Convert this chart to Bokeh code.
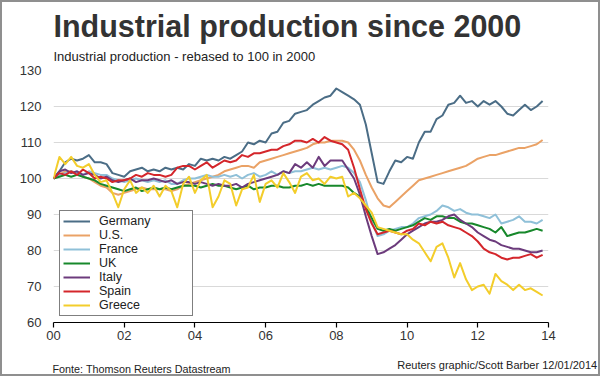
from bokeh.plotting import figure
from bokeh.models import (FixedTicker, Label, Legend, LegendItem, Title,
                          Range1d, CustomJSTickFormatter)
from bokeh.embed import file_html
from bokeh.resources import INLINE

# ---------------- data (bimonthly readings, rebased 2000 = 100) ----------------
start_year = 2000
periods_per_year = 6
n_periods = 84
years = [start_year + k / periods_per_year for k in range(n_periods)]

germany = [
    100, 102, 104.5, 105.5, 105, 105.5,
    106.5, 104.5, 104.5, 104, 101.5, 101,
    100.5, 102, 102.5, 103, 102, 102.5,
    102, 103, 102.5, 103, 102.5, 104,
    103.5, 105.5, 105, 105.5, 105, 106,
    105.5, 106.5, 107.5, 110, 109.5, 110.5,
    110, 112.5, 113, 115.5, 116, 118,
    118.5, 119, 120.5, 121.5, 122.5, 123,
    125, 124, 123, 122, 120.5, 115,
    107, 99, 98.5, 102, 105, 104.5,
    106, 105.5, 110, 113, 113, 116.5,
    117.5, 120.5, 121, 123, 121, 121.5,
    120, 121.5, 120.5, 121.5, 120, 118,
    117.5, 119, 120.5, 119, 120, 121.5,
]
us = [
    100, 101, 102, 102, 101.5, 100.5,
    100, 99, 98, 97.5, 96, 95.5,
    96, 96.5, 97, 97.5, 97, 97,
    97, 97, 96.5, 97, 98, 98.5,
    99, 99.5, 100, 100.5, 101, 102,
    102.5, 103, 103.5, 103.5, 103, 104.5,
    105, 105.5, 106, 106.5, 107, 107.5,
    108, 108.5, 109.5, 110, 110, 110.5,
    110.5, 110.5, 110, 108, 105, 101,
    97.5, 94.5, 92.5, 92, 93.5, 95,
    96.5, 98, 99.5, 100, 100.5, 101,
    101.5, 102, 102.5, 103, 103.5, 104.5,
    105.5, 106, 106.5, 106.5, 107, 107.5,
    108, 108.5, 108.5, 109, 109.5, 110.7,
]
france = [
    100, 101, 101.5, 102, 101.5, 101,
    102, 101.5, 101, 101, 100, 99.5,
    99, 99.5, 100, 99.5, 99, 99.5,
    99, 99.5, 98.5, 98.5, 99.5, 100,
    100, 100.5, 101, 100.5, 100.5, 101,
    100.5, 101, 100, 101, 101.5, 100.5,
    101, 102, 101, 102, 101.5, 102,
    102, 102.5, 103, 102.5, 103, 102.5,
    103, 103.5, 103, 101.5, 99, 94,
    88, 84, 84.5, 85.5, 86, 86.5,
    86.5, 87.5, 89, 89.5, 90, 91,
    92.5, 92, 91, 91.5, 90.5, 90,
    90, 89.5, 89, 90, 87.5, 88,
    88.5, 89.5, 88, 88, 87.5, 88.5,
]
uk = [
    100, 100.5, 101, 100.5, 101, 100.5,
    100, 99.5, 98.5, 98, 97.5, 97,
    96.5, 97, 97.5, 96.5, 97, 97.5,
    97, 97.5, 97, 97.5, 98, 98,
    98, 97.5, 98, 98.5, 98, 98,
    97.5, 97, 97.5, 98, 97, 97.5,
    97.5, 98, 98, 97.5, 97.5, 98,
    98, 98.5, 98, 98.5, 98, 98,
    98, 98, 97.5, 96, 95, 92,
    89, 86, 85.5, 86, 85.5, 86,
    86.5, 87, 88, 89, 88.5, 89.5,
    89.5, 89, 89, 88, 87.5, 87.5,
    87, 86.5, 86, 85, 86.5, 84,
    84.5, 85, 85, 85.5, 86, 85.5,
]
italy = [
    100, 102, 102.5, 101.5, 102, 101,
    101.5, 101, 100, 100.5, 99.5, 99,
    99.5, 100, 99, 99.5, 99.5, 100,
    99.5, 99, 99.5, 98.5, 99, 99,
    98.5, 99, 98.5, 98, 98.5, 98,
    98, 98.5, 97.5, 98.5, 99, 99.5,
    100, 100.5, 101, 102, 101.5, 104,
    103, 104.5, 103, 106, 103.5, 105,
    105, 105, 102.5, 100, 95.5, 89.5,
    84, 79, 79.5, 80.5, 81.5, 83,
    84.5, 85.5, 86.5, 87.5, 88, 88,
    88.5, 89.5, 90, 88.5, 87.5, 86.5,
    85, 84, 83, 82.5, 81.5, 81,
    80.5, 80.5, 80, 79.5, 79.5, 80,
]
spain = [
    100, 101.5, 101, 102, 101, 102.5,
    101.5, 100, 100.5, 100, 99, 99.5,
    99.5, 100, 101, 100.5, 101.5, 101,
    101, 100.5, 101, 103, 103.5, 103.5,
    102.5, 103.5, 104.5, 103, 104, 105,
    104.5, 105, 106.5, 106, 107, 107,
    107.5, 108, 108, 109, 109.5, 110.5,
    110.5, 110, 111, 110, 111.5, 110.5,
    110, 109.5, 108, 103, 97, 91.5,
    87.5, 84.5, 85, 85.5, 85, 84.5,
    85.5, 86, 87.5, 87, 88, 87.5,
    88, 87, 86.5, 86, 85, 84,
    82.5, 80.5, 79.5, 79, 78, 77.5,
    78, 78, 78.5, 79, 78, 78.8,
]
greece = [
    100, 106, 104, 106, 103.5, 103,
    104, 101, 99, 99.5, 96, 92,
    97, 99.5, 96, 97.5, 96, 98,
    95, 98, 96.5, 92, 98.5, 100.5,
    96, 99.5, 101, 92, 95, 99.5,
    98.5, 92.5, 97, 97.5, 101, 93.5,
    98.5, 99.5, 97.5, 101.5, 99, 96,
    100.5, 101.5, 99.5, 100, 98.5, 100.5,
    100, 100.5, 95, 96, 94.5, 92.5,
    90.5, 86.5, 86, 85.5, 85, 84.5,
    84.5, 83, 82, 79.5, 77, 81,
    82, 78, 72.5, 76.5, 72, 69,
    70, 70.5, 68, 73.5, 71.5, 70.5,
    69, 70.5, 69, 69.5, 68.5, 67.5,
]

series_names = ["Germany", "U.S.", "France", "UK", "Italy", "Spain", "Greece"]
series_values = [germany, us, france, uk, italy, spain, greece]
series_colors = ["#4b6d86", "#eaa266", "#8fc0d8", "#17882b", "#6c3b7c", "#d4262b", "#f3cd2b"]

x_ticks = list(range(2000, 2015, 2))
y_ticks = list(range(60, 131, 10))

title_text = "Industrial production since 2000"
subtitle_text = "Industrial production - rebased to 100 in 2000"
source_text = "Fonte: Thomson Reuters Datastream"
credit_text = "Reuters graphic/Scott Barber 12/01/2014"

# ---------------- figure ----------------
p = figure(width=600, height=376, title=None,
           x_range=Range1d(2000, 2014), y_range=Range1d(60, 130),
           output_backend="svg", toolbar_location=None,
           min_border_left=53, min_border_right=52,
           min_border_top=70, min_border_bottom=54)
p.background_fill_color = "white"
p.border_fill_color = "white"
p.border_fill_alpha = 0
p.outline_line_color = None
p.styles = {"background-color": "white",
            "box-shadow": "inset 0 0 0 2px #8f8f8f"}

p.xgrid.visible = False
p.ygrid.grid_line_color = "#d9d9d9"
p.ygrid.grid_line_width = 1
p.ygrid.ticker = FixedTicker(ticks=y_ticks)

xa = p.xaxis[0]
xa.ticker = FixedTicker(ticks=x_ticks)
xa.formatter = CustomJSTickFormatter(code="return String(Math.round(tick)).slice(2);")
xa.axis_line_color = "black"
xa.axis_line_width = 1.2
xa.major_tick_line_color = "black"
xa.major_tick_line_width = 1.2
xa.major_tick_out = 5
xa.major_tick_in = 0
xa.minor_tick_line_color = None
xa.major_label_standoff = 3
xa.major_label_text_font = "Liberation Sans"
xa.major_label_text_font_size = "13px"
xa.major_label_text_color = "#333333"

ya = p.yaxis[0]
ya.ticker = FixedTicker(ticks=y_ticks)
ya.axis_line_color = None
ya.major_tick_line_color = None
ya.major_tick_out = 0
ya.major_tick_in = 0
ya.minor_tick_line_color = None
ya.major_label_standoff = 12
ya.major_label_text_font = "Liberation Sans"
ya.major_label_text_font_size = "13px"
ya.major_label_text_color = "#333333"

items = []
for name, vals, col in zip(series_names, series_values, series_colors):
    r = p.line(years, vals, line_color=col, line_width=2, line_join="round")
    items.append(LegendItem(label=name, renderers=[r]))

legend = Legend(items=items, location=(6, 6), margin=0, padding=3, spacing=0,
                border_line_color="black", border_line_width=1.5,
                background_fill_color="white", background_fill_alpha=1,
                label_text_font="Liberation Sans", label_text_font_size="12.5px",
                label_text_color="#222222",
                label_height=14, glyph_height=14, glyph_width=27,
                label_standoff=9, label_width=90)
p.add_layout(legend)

# titles (the first one added sits closest to the frame)
p.add_layout(Title(text=subtitle_text, align="left", text_font="Liberation Sans",
                   text_font_style="normal", text_font_size="13px",
                   text_color="#222222", standoff=13), "above")
p.add_layout(Title(text=title_text, align="left", text_font="Liberation Sans",
                   text_font_style="bold", text_font_size="30.5px",
                   text_color="#333333", standoff=-5), "above")

# footers, each in its own panel below the x axis
p.add_layout(Label(x=-1, y=-14.7, x_units="screen", y_units="screen", text=source_text,
                   text_font="Liberation Sans", text_font_size="10.8px",
                   text_color="#222222", text_baseline="alphabetic"), "below")
p.add_layout(Label(x=543.7, y=1.5, x_units="screen", y_units="screen", text=credit_text,
                   text_font="Liberation Sans", text_font_size="11px",
                   text_color="#222222", text_align="right",
                   text_baseline="alphabetic"), "below")

open("out.html", "w").write(file_html(p, INLINE))
